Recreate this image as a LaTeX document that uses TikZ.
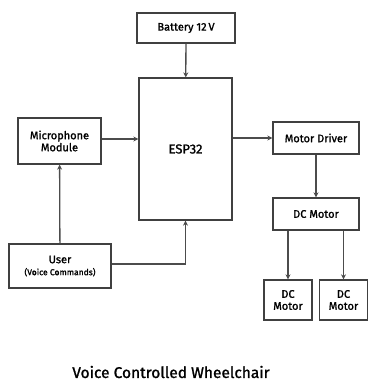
\documentclass[tikz,border=0pt]{standalone}
\usepackage{fontspec}
\setmainfont{Fira Sans}[BoldFont={Fira Sans}, BoldFeatures={FakeBold=1.3}]
\usepackage{tikz}
\usetikzlibrary{arrows.meta, positioning}

\begin{document}
\begin{tikzpicture}[
  x=1pt, y=-1pt,
  blk/.style    = {draw=black!75, line width=1.3pt, fill=white, inner sep=0pt,
                   align=center, font=\fontsize{11}{13}\selectfont\bfseries},
  motornode/.style = {blk, minimum width=48pt, minimum height=40pt},
  conn/.style   = {-{Stealth[length=5pt,width=5pt]}, line width=1.3pt, black!70},
]
\useasboundingbox (0,0) rectangle (368,383);

%% -- Boxes ------------------------------------------------------------
\node[blk, minimum width=98pt, minimum height=30pt] (bat) at (186,28) {Battery 12\,V};
\node[blk, minimum width=93pt, minimum height=142pt,
      font=\fontsize{13}{15}\selectfont\bfseries] (esp) at (185.5,149) {ESP32};
\node[blk, minimum width=83pt, minimum height=46pt] (mic) at (59.5,141)
  {Microphone\\[-1pt]Module};
\node[blk, minimum width=86pt, minimum height=32pt] (drv) at (316,138) {Motor Driver};
\node[blk, minimum width=86pt, minimum height=32pt] (dcm) at (316,214) {DC Motor};
\node[blk, minimum width=102pt, minimum height=44pt] (user) at (60,266)
  {User\\[-1pt]{\fontsize{8.5}{10}\selectfont(Voice Commands)}};
\node[motornode] (dcl) at (288,300) {DC\\[-1pt]Motor};
\node[motornode] (dcr) at (343.5,300) {DC\\[-1pt]Motor};

%% -- Connectors -------------------------------------------------------
\draw[conn] (bat) -- (esp);
\draw[conn] (mic.east |- 0,139) -- (esp.west |- 0,139);
\draw[conn] (esp.east |- 0,138) -- (drv);
\draw[conn] (drv) -- (dcm);
\draw[conn] (user) -- (mic);
\draw[conn] (user.east |- 0,264) -| (esp.south);
\draw[conn] (dcm.south -| dcl) -- (dcl);
\draw[conn] (dcm.south -| dcr) -- (dcr);

%% -- Title ------------------------------------------------------------
\node[font=\fontsize{15.5}{18}\selectfont\bfseries] (title) at (171,372)
  {Voice Controlled Wheelchair};

\end{tikzpicture}
\end{document}
